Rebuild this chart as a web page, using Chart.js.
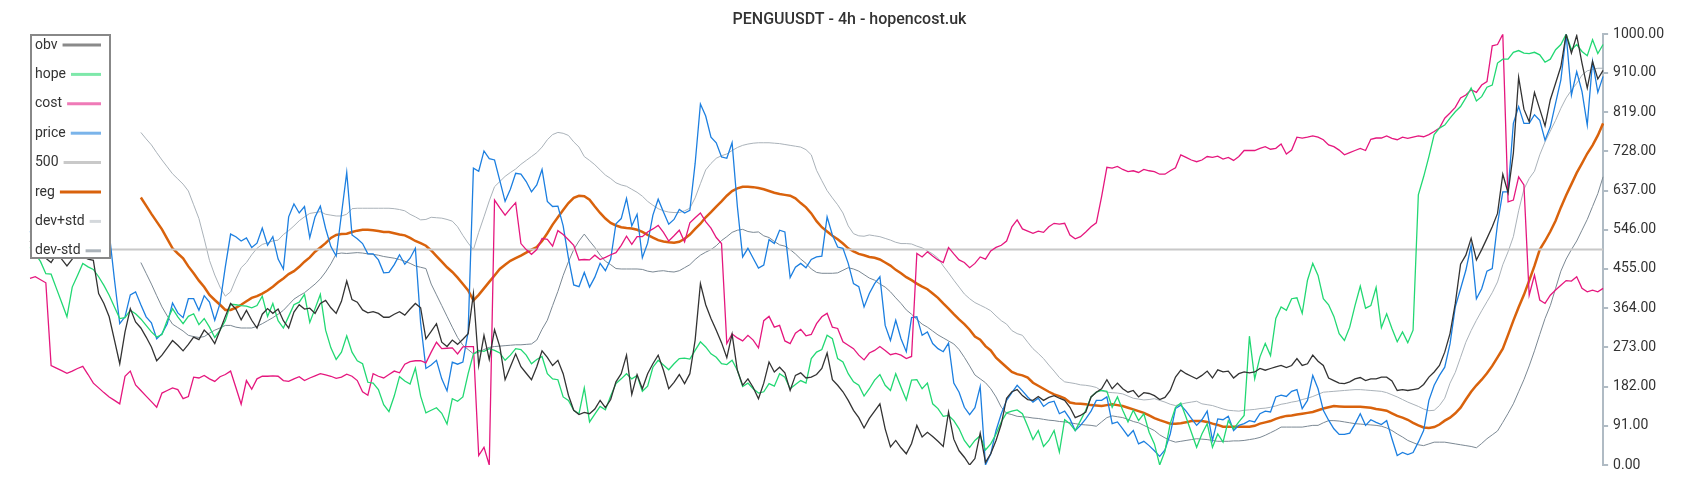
<!DOCTYPE html>
<html>
<head>
<meta charset="utf-8">
<script src="https://cdn.jsdelivr.net/npm/chart.js@4.4.1/dist/chart.umd.min.js"></script>
<style>
  html, body { margin: 0; padding: 0; background: #ffffff; }
  canvas { display: block; }
</style>
</head>
<body>
<canvas id="chart" width="1700" height="500"></canvas>
<script>
// ---- data (normalised 0..1000, 299 bars of 4h) ----
const obv = [
520,505,490,480,470,490,478,462,478,490,484,478,475,
398,375,344,290,235,309,363,332,318,297,274,242,255,272,289,278,265,280,297,291,313,301,282,313,
345,375,362,337,359,336,318,350,363,352,362,335,318,355,372,362,364,352,375,382,365,352,380,427,384,378,360,353,356,352,343,343,350,356,348,362,375,
365,293,310,328,285,275,290,280,292,305,398,231,301,245,314,275,198,228,258,228,213,198,228,265,250,231,243,212,162,127,117,122,119,130,150,133,152,
193,212,255,164,210,177,212,235,255,220,177,192,210,189,212,290,421,372,340,313,284,249,304,220,185,200,180,154,190,239,216,227,214,173,208,214,202,
204,210,224,260,198,185,170,150,127,110,86,108,125,142,84,42,57,40,26,50,92,65,76,66,55,43,123,60,33,18,0,15,74,6,26,57,95,
155,170,175,161,152,150,159,150,157,161,155,150,134,110,115,123,158,169,177,198,177,190,177,169,173,158,168,166,161,152,157,173,204,220,212,206,200,
208,218,202,221,216,218,202,212,216,214,216,224,220,224,228,231,226,231,247,231,235,255,241,231,202,196,190,189,193,200,203,196,200,200,204,
204,195,173,175,173,175,177,187,204,216,231,262,305,375,466,487,526,476,500,526,553,584,675,632,724,900,826,797,865,826,787,848,886,925,1000,956,997,933,875,937,896,916
];
const hope = [
505,490,472,444,443,410,377,344,413,440,468,460,454,437,417,394,367,340,342,359,351,339,324,309,297,303,336,363,344,328,345,351,326,340,320,296,313,
335,373,372,370,369,365,370,392,345,375,335,318,345,372,378,396,331,363,396,313,272,245,262,300,262,242,235,192,190,175,140,124,160,205,195,188,225,
160,121,127,133,120,95,154,148,158,212,258,266,264,270,266,260,243,255,270,268,255,235,245,252,212,200,198,158,150,127,119,179,100,118,136,128,160,
189,200,212,200,208,171,183,227,243,232,221,235,247,248,246,266,286,274,258,250,235,233,243,220,182,190,177,167,170,189,183,212,204,177,187,196,190,
247,262,268,301,293,247,239,212,193,185,160,177,197,210,185,173,212,181,151,197,198,177,190,142,131,113,115,103,84,57,41,57,68,35,49,72,100,
121,125,128,119,90,59,80,43,57,80,30,105,96,80,103,127,158,169,173,171,134,158,127,100,127,103,119,76,49,0,32,96,134,144,111,76,41,
72,96,41,72,53,103,84,100,115,299,200,251,282,254,340,367,359,386,388,352,429,468,440,386,372,345,305,289,320,370,415,364,370,412,319,
351,317,286,309,284,313,627,669,716,767,782,789,805,820,832,852,875,845,855,877,882,933,942,942,958,962,956,955,958,952,935,942,964,976,1000,964,976,960,950,987,955,976
];
const cost = [
433,437,430,423,231,225,219,213,218,224,229,210,190,179,168,158,150,142,206,218,186,173,160,147,134,167,173,179,175,154,159,204,202,208,200,194,205,
210,218,180,141,196,176,200,206,206,207,206,196,194,200,205,196,202,207,212,209,206,201,204,211,206,196,170,162,212,206,202,210,218,214,234,240,242,
242,237,262,285,270,271,272,258,274,275,275,22,41,0,615,597,580,595,609,514,500,489,500,526,524,508,544,535,523,510,476,477,476,487,477,482,488,
493,510,531,512,530,530,541,548,556,540,520,532,545,518,562,574,585,565,550,528,514,282,304,295,288,301,290,272,335,345,320,324,288,282,306,315,300,
303,328,344,352,320,317,286,278,270,255,244,260,266,275,266,256,259,255,247,252,491,483,495,485,476,470,505,490,476,470,458,468,483,478,497,505,510,
520,553,569,548,543,538,543,540,553,561,559,561,534,525,530,541,553,562,623,691,689,693,686,681,683,679,686,683,681,675,675,683,690,720,714,708,704,
708,716,714,717,710,714,707,716,730,730,730,735,739,733,735,745,722,731,761,759,761,764,761,755,743,739,731,720,725,730,735,730,756,759,759,
764,758,755,761,758,761,764,762,767,774,782,805,817,830,852,859,871,865,882,890,973,976,1000,611,615,669,650,394,441,383,375,394,406,417,428,427,437,410,402,406,402,410
];
const price = [
540,560,530,555,580,560,545,570,590,560,540,565,580,560,540,540,430,328,344,395,402,372,344,330,293,305,328,376,353,342,386,386,359,393,378,336,375,
460,536,530,520,527,505,515,550,510,530,478,455,576,606,585,600,528,576,601,549,507,485,582,679,534,525,514,490,490,476,446,447,465,488,466,480,503,
330,224,232,243,200,172,239,234,239,309,689,682,729,711,708,660,612,640,677,675,658,634,650,686,612,600,601,555,480,418,414,447,413,436,468,451,478,
560,572,619,555,582,481,515,580,617,587,559,570,593,585,591,700,838,810,761,748,715,712,748,600,483,503,480,457,464,523,514,545,541,435,459,468,458,
477,483,485,576,534,506,503,468,421,414,367,398,421,437,324,289,336,293,263,342,344,301,309,282,270,263,283,190,169,134,117,133,182,0,26,80,119,
150,168,185,172,158,146,155,136,145,148,119,125,107,80,92,107,125,150,150,158,96,100,84,67,80,49,55,45,33,20,35,72,131,139,125,108,92,
105,125,57,107,105,113,80,92,96,103,100,119,125,123,158,162,159,171,175,131,150,208,177,127,104,84,71,71,74,95,119,92,105,99,94,
103,61,22,29,24,29,53,80,150,185,208,227,281,367,409,452,510,386,409,450,456,560,634,634,793,832,793,793,813,800,754,785,840,894,1000,859,913,867,789,937,865,902
];
const reg = [
null,null,null,null,null,null,null,null,null,null,null,null,null,null,null,null,null,null,null,null,null,
621,602,583,565,547,525,503,491,480,461,445,428,413,395,383,372,360,
360,365,372,380,388,392,398,405,414,424,433,443,450,460,472,482,495,505,515,527,534,536,537,541,544,546,546,545,543,541,541,538,535,533,527,520,
515,509,498,485,472,459,448,435,420,405,382,395,410,425,440,455,465,474,480,486,493,500,506,520,538,558,575,592,608,620,625,624,616,600,585,572,562,
556,552,550,549,546,541,534,528,522,519,517,516,518,525,535,548,560,575,587,600,612,625,636,642,646,646,645,643,640,636,632,629,627,625,619,608,598,
584,566,552,542,532,524,514,503,496,490,487,483,481,477,470,463,453,445,436,429,421,414,408,398,388,375,363,350,338,327,314,298,291,276,266,249,238,
227,216,211,208,203,191,184,177,170,164,160,155,145,143,142,141,139,138,137,139,141,139,137,133,129,125,121,115,109,104,100,96,96,97,99,102,102,
102,100,96,93,89,89,89,89,89,89,91,96,99,102,107,111,114,115,117,119,121,123,127,131,134,137,136,135,135,135,135,134,133,130,128,
126,120,114,110,105,98,92,87,86,88,94,103,110,120,133,152,170,185,198,213,230,250,270,302,335,366,395,428,462,500,520,542,567,598,626,652,678,700,723,742,765,793
];
const devPlus = [
null,null,null,null,null,null,null,null,null,null,null,null,null,null,null,null,null,null,null,null,null,
772,757,743,725,708,692,676,664,652,636,604,572,525,475,441,413,392,
402,432,458,470,488,503,512,516,520,522,535,544,555,567,576,584,586,588,582,580,578,578,582,595,596,596,596,596,596,596,596,595,593,590,582,576,
569,570,575,574,573,570,566,553,533,515,500,540,576,613,646,658,670,679,687,698,707,716,725,738,755,767,772,770,765,750,738,716,707,697,685,673,665,
655,650,647,640,633,624,612,603,595,590,587,586,586,590,596,620,653,685,700,712,718,722,730,737,742,745,747,748,748,748,747,746,744,742,740,738,732,
720,684,660,637,620,604,585,555,537,532,531,534,532,530,526,522,517,514,514,513,508,504,497,490,480,462,446,429,413,397,386,377,371,365,358,346,335,
327,312,305,301,285,270,259,247,232,218,203,193,191,189,186,185,183,180,172,169,168,167,165,160,155,153,151,152,154,150,146,141,138,141,144,146,148,
142,140,138,134,130,127,126,125,127,128,129,131,132,134,137,141,143,146,148,152,155,159,164,169,170,171,172,173,174,175,175,174,173,172,171,
168,163,158,152,146,141,136,130,126,127,138,155,190,215,250,285,312,336,358,379,400,425,465,495,530,590,640,665,682,720,750,775,800,828,852,870,886,905,915,918,921,921
];
const devMinus = [
null,null,null,null,null,null,null,null,null,null,null,null,null,null,null,null,null,null,null,null,null,
470,445,420,393,367,346,327,319,311,301,298,296,298,306,313,318,324,
324,320,318,318,318,322,328,335,342,350,359,372,385,393,400,410,420,432,448,467,490,492,491,492,493,492,490,489,487,484,482,480,477,473,468,462,
459,456,420,395,370,345,320,296,278,268,258,262,268,273,275,276,277,278,279,279,280,281,290,315,336,370,403,440,472,500,520,536,520,505,487,473,465,
456,455,455,455,455,454,450,448,450,451,449,448,451,458,465,477,487,494,500,509,521,530,540,545,547,542,540,541,532,528,519,511,508,500,490,478,468,
455,447,445,445,445,446,452,458,455,450,442,434,429,420,413,402,388,375,360,350,338,327,320,311,302,295,288,281,268,250,230,209,200,191,177,158,134,
120,117,113,112,111,109,108,106,104,103,101,100,98,96,94,93,92,90,100,110,114,112,110,106,101,98,92,86,80,70,63,57,53,55,57,59,61,
60,59,57,55,55,55,56,56,57,59,61,64,69,75,81,88,88,88,88,88,90,92,92,98,103,103,102,100,98,96,95,94,93,92,90,
86,80,72,65,57,52,47,45,49,53,53,53,51,49,47,45,43,40,50,61,70,79,99,120,142,170,198,230,265,303,340,370,410,450,478,500,520,545,570,600,630,669
];
const level500 = 500;
const categories = price.map((_, i) => i);
const yTicks = [0, 91, 182, 273, 364, 455, 546, 637, 728, 819, 910, 1000];
const titleText = 'PENGUUSDT - 4h - hopencost.uk';

// ---- styles ----
Chart.defaults.font.family = 'Roboto';

function ds(label, data, color, width, legendColor) {
  return { label, data, borderColor: color, backgroundColor: color, borderWidth: width,
           pointRadius: 0, tension: 0, fill: false, legendColor };
}
const datasets = [
  ds('obv', obv, '#333333', 1.3, '#8a8a8a'),
  ds('hope', hope, '#22d873', 1.3, '#7ee8aa'),
  ds('cost', cost, '#e5177e', 1.3, '#ef7ab7'),
  ds('price', price, '#1c7fe0', 1.3, '#7ab4ea'),
  ds('500', categories.map(() => level500), '#c8c8c8', 2, '#c9c9c9'),
  ds('reg', reg, '#d9620c', 2.5, '#d9620c'),
  ds('dev+std', devPlus, '#aab2b9', 1, '#d4d8dc'),
  ds('dev-std', devMinus, '#7b8893', 1, '#aab2b9')
];

const boxLegend = {
  id: 'boxLegend',
  afterDraw(chart) {
    const ctx = chart.ctx;
    ctx.save();
    ctx.fillStyle = '#ffffff';
    ctx.fillRect(30, 34, 81, 225);
    ctx.strokeStyle = '#888888';
    ctx.lineWidth = 2;
    ctx.strokeRect(31, 35, 79, 223);
    ctx.font = '14px Roboto';
    ctx.textBaseline = 'middle';
    chart.data.datasets.forEach((d, i) => {
      const y = 45 + i * 29.4;
      ctx.fillStyle = '#333333';
      ctx.fillText(d.label, 35, y);
      const w = ctx.measureText(d.label).width;
      ctx.strokeStyle = d.legendColor;
      ctx.lineWidth = 3;
      ctx.beginPath();
      ctx.moveTo(35 + w + 5, y);
      ctx.lineTo(101, y);
      ctx.stroke();
    });
    ctx.restore();
  }
};

new Chart(document.getElementById('chart'), {
  type: 'line',
  data: { labels: categories, datasets },
  options: {
    responsive: false,
    animation: false,
    devicePixelRatio: 1,
    layout: { padding: { left: 30, right: 31, top: 0, bottom: 35 } },
    plugins: {
      legend: { display: false },
      tooltip: { enabled: false },
      title: {
        display: true,
        text: titleText,
        color: '#333333',
        font: { family: 'Roboto', size: 16, weight: '500' },
        padding: { top: 10, bottom: 5 }
      }
    },
    scales: {
      x: { display: false },
      y: {
        position: 'right',
        min: yTicks[0],
        max: yTicks[yTicks.length - 1],
        afterBuildTicks: scale => { scale.ticks = yTicks.map(v => ({ value: v })); },
        ticks: {
          padding: 5,
          color: '#333333',
          font: { family: 'Roboto', size: 14 },
          callback: v => Number(v).toFixed(2)
        },
        grid: { drawOnChartArea: false, drawTicks: true, tickLength: 5, color: '#b0bbc4', lineWidth: 2 },
        border: { display: true, color: '#b0bbc4', width: 2 }
      }
    }
  },
  plugins: [boxLegend]
});
</script>
</body>
</html>
